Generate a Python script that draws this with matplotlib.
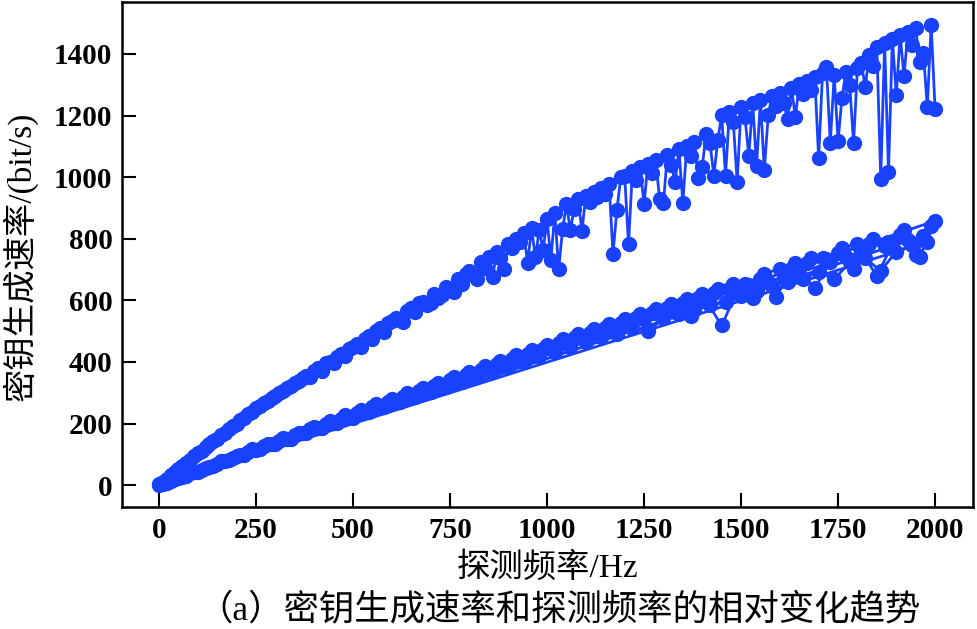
import matplotlib
matplotlib.use("Agg")
import matplotlib.pyplot as plt
import numpy as np

plt.rcParams['font.family'] = ['Liberation Serif', 'Noto Sans CJK SC']

# 探测频率 (Hz)
freq_upper = list(range(0, 2001, 10))
freq_lower_a = list(range(0, 2001, 40))
freq_lower_b = list(range(10, 2001, 40))
freq_lower_c = list(range(20, 2001, 40))
freq_lower_d = list(range(30, 2001, 40))

# upper branch: key rate (bit/s), one value every 10 Hz
rate_upper = [
    3, 11, 20, 32, 41, 53, 61, 73, 82, 94,
    103, 112, 124, 132, 143, 151, 163, 170, 182, 191,
    200, 211, 219, 231, 239, 250, 257, 267, 273, 283,
    290, 299, 305, 315, 321, 331, 337, 347, 353, 350,
    370, 379, 372, 395, 401, 396, 417, 427, 418, 443,
    450, 459, 448, 476, 483, 475, 499, 509, 497, 526,
    533, 542, 535, 529, 566, 576, 562, 591, 596, 585,
    590, 621, 606, 617, 643, 632, 627, 669, 652, 687,
    695, 683, 668, 723, 705, 741, 675, 758, 738, 701,
    783, 770, 800, 790, 817, 721, 834, 740, 829, 763,
    865, 730, 885, 701, 830, 912, 828, 898, 930, 825,
    940, 918, 952, 935, 965, 945, 978, 750, 893, 999,
    1005, 782, 1019, 990, 1032, 912, 1044, 1015, 1055, 930,
    916, 1072, 1040, 985, 1090, 915, 1101, 1070, 1114, 996,
    1033, 1141, 1110, 1005, 1120, 1201, 1005, 1212, 1180, 985,
    1228, 1195, 1069, 1242, 1036, 1251, 1023, 1201, 1264, 1230,
    1273, 1240, 1188, 1290, 1195, 1301, 1270, 1313, 1282, 1325,
    1061, 1338, 1357, 1111, 1331, 1117, 1256, 1341, 1300, 1110,
    1355, 1369, 1292, 1395, 1360, 1421, 994, 1435, 1016, 1449,
    1266, 1461, 1328, 1472, 1430, 1483, 1373, 1403, 1227, 1494,
    1221,
]

# lower branch: four interleaved sweeps, 40 Hz apart each
rate_lower_a = [
    0, 19, 39, 57, 78, 96, 116, 134, 153, 170,
    190, 207, 227, 245, 262, 280, 298, 315, 333, 350,
    368, 386, 403, 421, 438, 456, 473, 490, 507, 523,
    540, 557, 573, 589, 605, 621, 637, 653, 650, 686,
    703, 720, 737, 735, 770, 784, 799, 790, 829, 740,
    858,
]
rate_lower_b = [
    4, 22, 41, 59, 78, 97, 115, 133, 150, 169,
    186, 203, 221, 239, 255, 272, 289, 306, 323, 339,
    352, 374, 390, 407, 424, 441, 458, 478, 490, 505,
    522, 538, 552, 562, 549, 598, 519, 628, 607, 660,
    676, 688, 639, 725, 740, 757, 679, 782, 796, 809,
]
rate_lower_c = [
    8, 26, 43, 62, 80, 98, 116, 134, 150, 168,
    185, 201, 219, 237, 253, 269, 286, 302, 318, 334,
    351, 367, 384, 401, 420, 433, 449, 464, 480, 490,
    511, 500, 541, 555, 570, 585, 595, 614, 630, 646,
    661, 670, 693, 668, 723, 736, 696, 758, 778, 790,
]
rate_lower_d = [
    12, 31, 50, 69, 88, 107, 126, 144, 162, 181,
    199, 216, 235, 253, 270, 287, 305, 322, 340, 356,
    374, 392, 409, 426, 443, 461, 477, 494, 510, 526,
    543, 560, 575, 591, 607, 623, 638, 654, 670, 610,
    703, 720, 737, 754, 701, 783, 775, 813, 747, 841,
]

x_ticks = [0, 250, 500, 750, 1000, 1250, 1500, 1750, 2000]
y_ticks = [0, 200, 400, 600, 800, 1000, 1200, 1400]

color = '#1942ff'

fig = plt.figure(figsize=(9.77, 6.29), dpi=100)
ax = fig.add_axes([0.125, 0.194, 0.871, 0.803])

# sweeps drawn as one continuous trace, like the measured record
lower_x = np.concatenate([freq_lower_a, freq_lower_b, freq_lower_c, freq_lower_d])
lower_y = np.concatenate([rate_lower_a, rate_lower_b, rate_lower_c, rate_lower_d])
ax.plot(lower_x, lower_y, color=color, marker='o', markersize=10, linewidth=2.0)
ax.plot(freq_upper, rate_upper, color=color, marker='o', markersize=10, linewidth=2.0)

ax.set_xlim(-95, 2098)
ax.set_ylim(-71, 1569)
ax.set_xticks(x_ticks)
ax.set_yticks(y_ticks)
ax.tick_params(direction='in', length=10, width=1.5, labelsize=21, pad=7,
               top=False, right=False)
for lab in ax.get_xticklabels() + ax.get_yticklabels():
    lab.set_fontweight('bold')
for sp in ax.spines.values():
    sp.set_linewidth(1.8)

ax.set_xlabel('探测频率/Hz', fontsize=24)
ax.xaxis.set_label_coords(0.5, -0.09)
ax.set_ylabel('密钥生成速率/(bit/s)', fontsize=24)
ax.yaxis.set_label_coords(-0.099, 0.496)

fig.text(0.572, 0.03, '（a）密钥生成速率和探测频率的相对变化趋势',
         fontsize=25.5, ha='center', va='center')

fig.savefig('out.png', dpi=100)
